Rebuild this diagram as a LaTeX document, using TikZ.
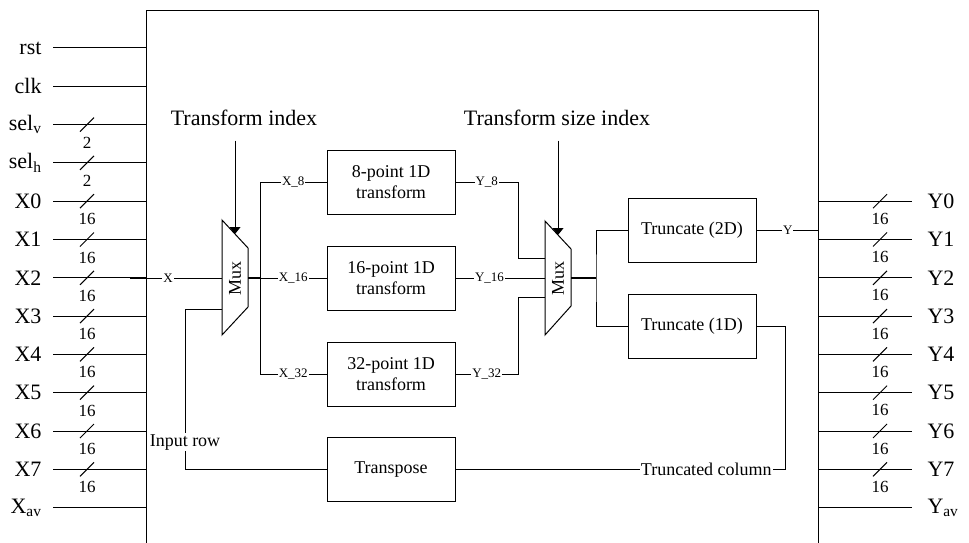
\documentclass[tikz,border=0pt]{standalone}
\usepackage{fontspec}
\setmainfont{Liberation Serif}
\usetikzlibrary{arrows.meta,calc}

\begin{document}
\begin{tikzpicture}[
   x=1pt, y=-1pt,
   line width=1pt,
   port/.style={inner sep=0pt, font=\fontsize{22}{26}\selectfont},
   width label/.style={inner sep=0pt, font=\fontsize{17}{20}\selectfont},
   block/.style={draw, minimum width=128pt, minimum height=64pt, inner sep=0pt,
       align=center, font=\fontsize{18}{21.6}\selectfont},
   signal/.style={fill=white, inner sep=1pt, font=\fontsize{13}{15}\selectfont},
   tag/.style={fill=white, inner sep=1pt, font=\fontsize{18}{21}\selectfont},
   title/.style={font=\fontsize{22}{26}\selectfont},
   mux label/.style={rotate=90, font=\fontsize{18}{21}\selectfont},
   sel arrow/.style={-{Triangle[width=11pt,length=7pt]}},
   bus out/.style={line width=1.8pt}
  ]
  \useasboundingbox (0,0) rectangle (969,543);
  \clip (0,0) rectangle (969,543);

  % chip outline, open at the bottom
  \node[draw, inner sep=0pt, minimum width=672pt, minimum height=600pt, anchor=north west] (chip) at (146,10) {};

  % inputs
  \foreach \i/\name in {0/rst,1/clk,12/X\textsubscript{av}} {
    \node[port, anchor=east] (in\i) at (42,48+38.3*\i) {\name};
    \draw ([xshift=11pt]in\i.east) -- (in\i.east -| chip.west);
  }
  \foreach \i/\name/\w in {2/sel\textsubscript{v}/2,3/sel\textsubscript{h}/2,4/X0/16,5/X1/16,6/X2/16,
                           7/X3/16,8/X4/16,9/X5/16,10/X6/16,11/X7/16} {
    \node[port, anchor=east] (in\i) at (42,48+38.3*\i) {\name};
    \draw ([xshift=11pt]in\i.east) -- (in\i.east -| chip.west);
    \coordinate (itk\i) at (87,48+38.3*\i);
    \draw ($(itk\i)+(-7,7)$) -- ($(itk\i)+(7,-7)$);
    \node[width label] at ($(itk\i)+(0,18)$) {\w};
  }

  % outputs
  \foreach \i/\name in {4/Y0,5/Y1,6/Y2,7/Y3,8/Y4,9/Y5,10/Y6,11/Y7} {
    \node[port, anchor=west] (out\i) at (927,48+38.3*\i) {\name};
    \draw (out\i.west -| chip.east) -- ([xshift=-15pt]out\i.west);
    \coordinate (otk\i) at (880,48+38.3*\i);
    \draw ($(otk\i)+(-7,7)$) -- ($(otk\i)+(7,-7)$);
    \node[width label] at ($(otk\i)+(0,17.5)$) {16};
  }
  \node[port, anchor=west] (out12) at (927,507.6) {Y\textsubscript{av}};
  \draw (out12.west -| chip.east) -- ([xshift=-15pt]out12.west);

  % first mux
  \draw (222,220) -- (248,248) -- (248,307) -- (222,335) -- cycle;
  \node[mux label] (mux1) at (235,278) {Mux};
  \coordinate (m1in) at (222,278);
  \coordinate (m1row) at (222,309);
  \coordinate (m1out) at (248,278);
  \coordinate (m1sel) at (235,234);
  \node[title] (tidx) at (244,118) {Transform index};
  \draw[sel arrow] ($(tidx.south -| m1sel)+(0,11)$) -- (m1sel);

  % second mux
  \draw (545,221) -- (571,249) -- (571,306) -- (545,335) -- cycle;
  \node[mux label] (mux2) at (558,278) {Mux};
  \coordinate (m2a) at (545,258);
  \coordinate (m2b) at (545,278);
  \coordinate (m2c) at (545,297);
  \coordinate (m2out) at (571,278);
  \coordinate (m2sel) at (558,235);
  \node[title] (tsize) at (557,118) {Transform size index};
  \draw[sel arrow] ($(tsize.south -| m2sel)+(0,11)$) -- (m2sel);

  % blocks
  \node[block] (p8)  at (391,182) {8-point 1D\\transform};
  \node[block] (p16) at (391,278) {16-point 1D\\transform};
  \node[block] (p32) at (391,374) {32-point 1D\\transform};
  \node[block] (tp)  at (391,469.3) {Transpose};
  \node[block] (t2d) at (692,230) {Truncate (2D)};
  \node[block] (t1d) at (692,326) {Truncate (1D)};

  \coordinate (xbus) at (260,278);
  \coordinate (ybus) at (518,278);
  \coordinate (tbus) at (596,278);

  % wiring
  \draw[line width=2pt] ($(chip.west |- m1in)+(-16,0)$) -- (chip.west |- m1in);
  \draw (chip.west |- m1in) -- node[signal, pos=0.29] {X} (m1in);
  \draw[bus out] (m1out) -- (xbus);
  \draw (p8.west) -- node[signal] {X\_8} (p8.west -| xbus) -- (p32.west -| xbus)
        -- node[signal] {X\_32} (p32.west);
  \draw (xbus) -- node[signal] {X\_16} (p16.west);

  \draw (p8.east) -- node[signal] {Y\_8} (p8.east -| ybus) |- (m2a);
  \draw (p16.east) -- node[signal, pos=0.38] {Y\_16} (m2b);
  \draw (p32.east) -- node[signal] {Y\_32} (p32.east -| ybus) |- (m2c);

  \draw[bus out] (m2out) -- (tbus);
  \draw (t2d.west) -| (tbus) |- (t1d.west);
  \draw (t2d.east) -- node[signal] {Y} (t2d.east -| chip.east);

  \draw (t1d.east) -- ++(29,0) |- node[tag, pos=0.62] {Truncated column} (tp.east);
  \draw (m1row) -- ++(-37,0) |- node[tag, pos=0.415] {Input row} (tp.west);
\end{tikzpicture}
\end{document}
